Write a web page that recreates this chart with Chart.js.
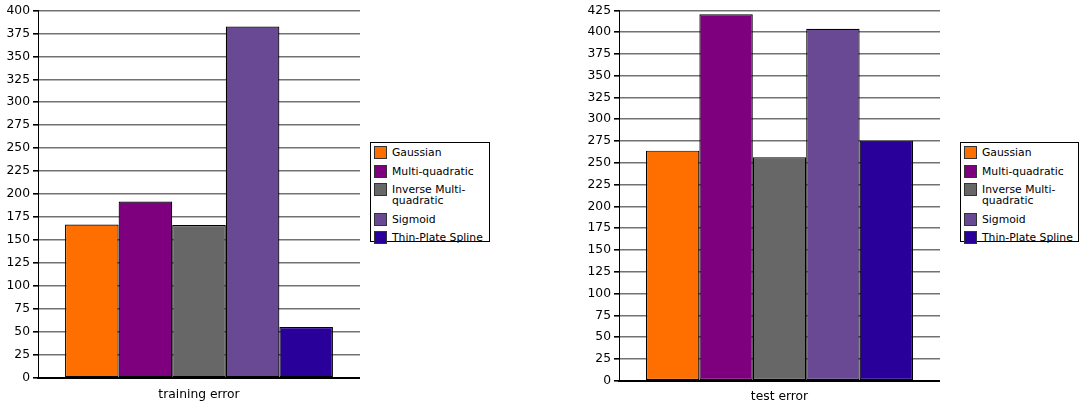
<!DOCTYPE html>
<html>
<head>
<meta charset="utf-8">
<script src="https://cdn.jsdelivr.net/npm/chart.js@4.4.0/dist/chart.umd.min.js"></script>
<style>
  body { margin: 0; background: #fff; width: 1081px; height: 408px; position: relative; overflow: hidden; font-family: "DejaVu Sans", sans-serif; }
  .box { position: absolute; }
  .legend { position: absolute; border: 1px solid #000; background: #fff; box-sizing: border-box; padding: 4px 0 0 3px; font-size: 10.8px; color: #000; }
  .legend .item { position: relative; padding-left: 18px; line-height: 11px; margin-bottom: 7.5px; }
  .legend .sw { position: absolute; left: 0; top: -1px; width: 11px; height: 11px; border: 1px solid #333; }
</style>
</head>
<body>
<div class="box" style="left:0;top:0;width:360px;height:408px"><canvas id="trainChart"></canvas></div>
<div class="box" style="left:581px;top:0;width:359px;height:408px"><canvas id="testChart"></canvas></div>
<div class="legend" id="legend1" style="left:370px;top:142px;width:120px;height:100px"></div>
<div class="legend" id="legend2" style="left:960px;top:142px;width:119px;height:100px"></div>
<script>
// kernel names and colours
var kernels = ["Gaussian", "Multi-quadratic", "Inverse Multi-quadratic", "Sigmoid", "Thin-Plate Spline"];
var legendText = ["Gaussian", "Multi-quadratic", "Inverse Multi-<br>quadratic", "Sigmoid", "Thin-Plate Spline"];
var colors = ["#ff6f00", "#7f007f", "#676767", "#6a4994", "#290099"];

// values
var trainingError = [167, 192, 166.5, 382.5, 55.5];
var testError = [264, 420.5, 256.5, 404, 275.5];

function makeChart(id, label, values, max, padTop, plotHeight) {
	var datasets = [];
	for (var i in kernels) {
		datasets.push({
			label: kernels[i],
			data: [values[i]],
			backgroundColor: colors[i],
			borderColor: "#000",
			borderWidth: 1.2,
			borderSkipped: false
		});
	}
	return new Chart(document.getElementById(id), {
		type: 'bar',
		data: { labels: [label], datasets: datasets },
		options: {
			responsive: true,
			maintainAspectRatio: false,
			animation: false,
			layout: { padding: { top: padTop, right: 0, left: 0, bottom: 0 } },
			categoryPercentage: 0.832,
			barPercentage: 1.0,
			plugins: { legend: { display: false }, tooltip: { enabled: false } },
			scales: {
				x: {
					grid: { display: false, drawTicks: false },
					border: { color: "#000", width: 2 },
					ticks: { color: "#000", padding: 9, font: { family: "DejaVu Sans", size: 12.3 } },
					afterFit: function(scale) { scale.height = 408 - padTop - plotHeight; }
				},
				y: {
					min: 0,
					max: max,
					grid: { color: "#727272", lineWidth: 1.6, tickColor: "#000", tickLength: 5 },
					border: { color: "#000", width: 1 },
					ticks: { stepSize: 25, color: "#000", padding: 3, font: { family: "DejaVu Sans", size: 12.3 } },
					afterFit: function(scale) { scale.width = 38; }
				}
			}
		}
	});
}

function makeLegend(id) {
	var html = "";
	for (var i in kernels) {
		html += '<div class="item"><span class="sw" style="background:' + colors[i] + '"></span>' + legendText[i] + '</div>';
	}
	document.getElementById(id).innerHTML = html;
}

makeChart("trainChart", "training error", trainingError, 400, 10, 368);
makeChart("testChart", "test error", testError, 425, 7.3, 373.4);
makeLegend("legend1");
makeLegend("legend2");
</script>
</body>
</html>
